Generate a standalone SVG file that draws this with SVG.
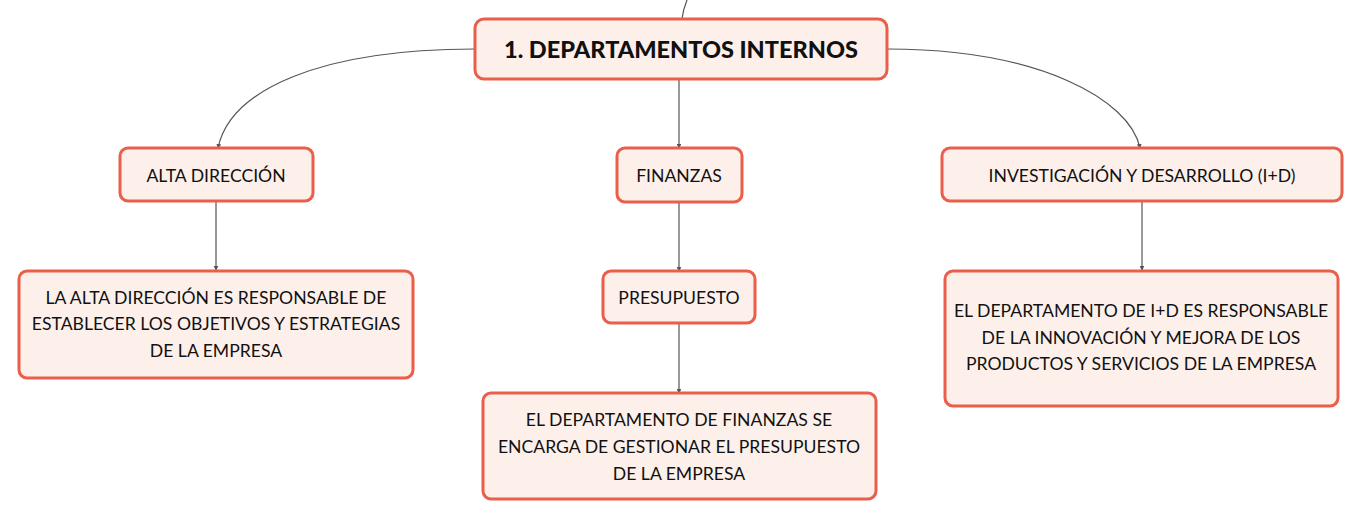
<svg xmlns="http://www.w3.org/2000/svg" width="1363" height="520" viewBox="0 0 1363 520">
<style>
.box{fill:#FDF0EB;stroke:#E95F4B;stroke-width:3}
.t{font-family:Lato,"Open Sans","Liberation Sans",sans-serif;font-size:17.6px;fill:#111;text-anchor:middle;dominant-baseline:central}
.title{font-family:Lato,"Open Sans","Liberation Sans",sans-serif;font-size:23.5px;font-weight:900;fill:#111;text-anchor:middle;dominant-baseline:central}
.c{fill:none;stroke:#555;stroke-width:1.2}
</style>
<defs>
<marker id="a" viewBox="0 0 6 6" refX="5" refY="3" markerWidth="4" markerHeight="4" orient="auto">
<path d="M0,0 L6,3 L0,6 z" fill="#555"/>
</marker>
</defs>
<rect width="1363" height="520" fill="#fff"/>
<g id="connectors">
<path class="c" d="M687,0 Q683,10 682,19"/>
<path class="c" marker-end="url(#a)" d="M475,49 C320,49 230,90 218,148"/>
<path class="c" marker-end="url(#a)" d="M887,49 C1040,49 1130,100 1140,148"/>
<path class="c" marker-end="url(#a)" d="M679,79 L679,148"/>
<path class="c" marker-end="url(#a)" d="M216,201 L216,270"/>
<path class="c" marker-end="url(#a)" d="M1142,201 L1142,270"/>
<path class="c" marker-end="url(#a)" d="M679,202 L679,271"/>
<path class="c" marker-end="url(#a)" d="M679,323 L679,393"/>
</g>
<g id="main">
<rect class="box" x="475" y="19" width="412" height="60" rx="9"/>
<text class="title" x="681" y="49">1. DEPARTAMENTOS INTERNOS</text>
</g>
<g id="alta">
<rect class="box" x="120" y="148" width="193" height="53" rx="8"/>
<text class="t" x="216" y="175">ALTA DIRECCIÓN</text>
</g>
<g id="finanzas">
<rect class="box" x="617" y="148" width="125" height="54" rx="8"/>
<text class="t" x="679" y="175">FINANZAS</text>
</g>
<g id="id">
<rect class="box" x="942" y="148" width="400" height="53" rx="8"/>
<text class="t" x="1142" y="175">INVESTIGACIÓN Y DESARROLLO (I+D)</text>
</g>
<g id="alta-desc">
<rect class="box" x="19" y="271" width="394" height="107" rx="8"/>
<text class="t" x="216" y="297">LA ALTA DIRECCIÓN ES RESPONSABLE DE</text>
<text class="t" x="216" y="323">ESTABLECER LOS OBJETIVOS Y ESTRATEGIAS</text>
<text class="t" x="216" y="350">DE LA EMPRESA</text>
</g>
<g id="presupuesto">
<rect class="box" x="603" y="271" width="152" height="52" rx="8"/>
<text class="t" x="679" y="297">PRESUPUESTO</text>
</g>
<g id="finanzas-desc">
<rect class="box" x="483" y="393" width="393" height="106" rx="8"/>
<text class="t" x="679" y="419">EL DEPARTAMENTO DE FINANZAS SE</text>
<text class="t" x="679" y="446">ENCARGA DE GESTIONAR EL PRESUPUESTO</text>
<text class="t" x="679" y="473">DE LA EMPRESA</text>
</g>
<g id="id-desc">
<rect class="box" x="945" y="271" width="393" height="135" rx="8"/>
<text class="t" x="1141" y="310">EL DEPARTAMENTO DE I+D ES RESPONSABLE</text>
<text class="t" x="1141" y="337">DE LA INNOVACIÓN Y MEJORA DE LOS</text>
<text class="t" x="1141" y="363">PRODUCTOS Y SERVICIOS DE LA EMPRESA</text>
</g>
</svg>
